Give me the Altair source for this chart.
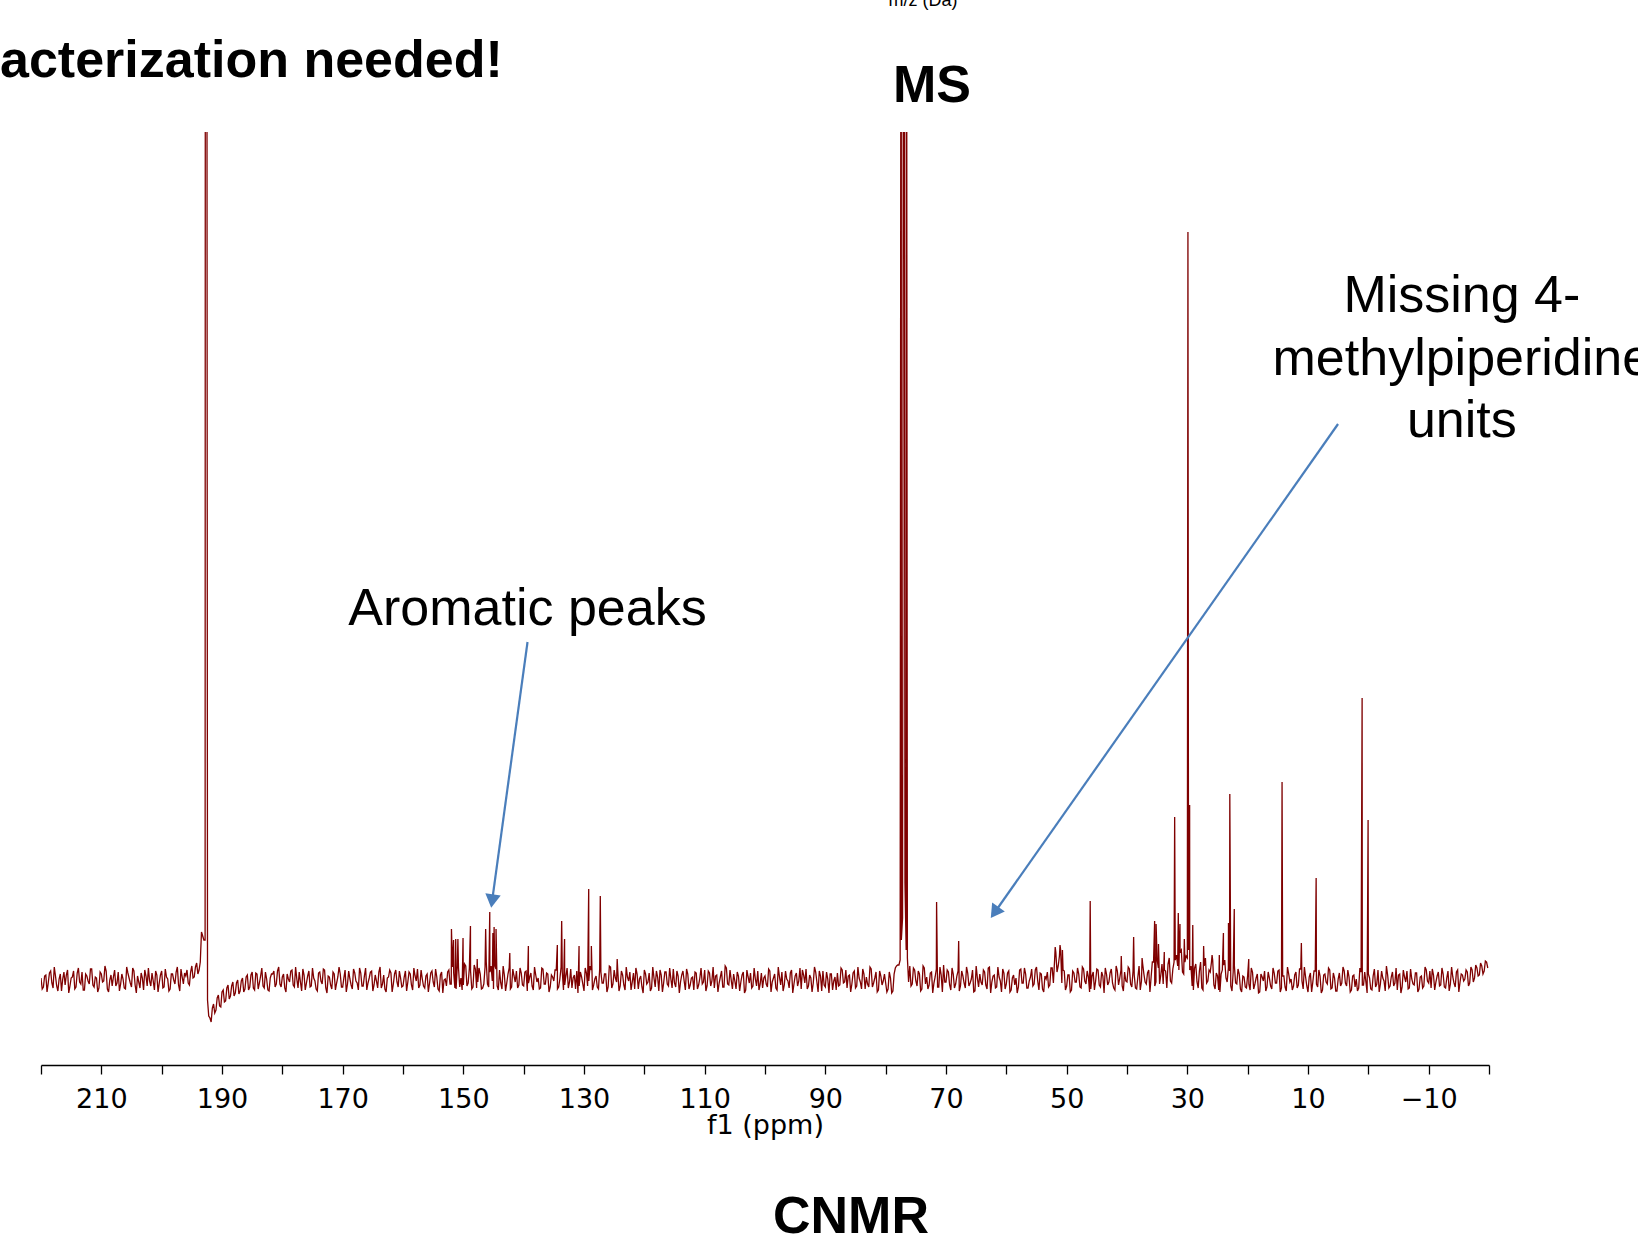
import altair as alt
import pandas as pd

# ---------------- data ----------------
PPM_START = 220.0
PPM_STEP = 0.2

# baseline / noise on the 0.4 ppm grid (220.0, 219.6, ...), 100 points per 40 ppm
noise_220_180 = [
    2, -7, 5, -3, 9, -8, 4, -11, 6, 1,
    -5, 10, -6, 3, -9, 7, -2, 8, -10, 4,
    -4, 11, -7, 2, -8, 6, -1, 9, -12, 5,
    3, -6, 8, -4, 1, -9, 7, -3, 12, -5,
    4, -8, 2, 10, -6, -1, 7, -10, 5, -3,
    9, -7, 3, -11, 6, 0, 8, -5, 11, -4,
    4, -3, 8, 2, 13, 6, 18, 44, 40, -20,
    -38, -28, -33, -18, -26, -12, -22, -8, -19, -6,
    -16, -3, -14, -1, -12, 3, -10, 5, -8, 7,
    -9, 4, -6, 8, -10, 2, 6, -7, 9, -4,
]
noise_180_140 = [
    3, -8, 6, -2, 10, -7, 1, 8, -11, 5,
    -3, 9, -6, 2, -9, 7, -1, 11, -8, 4,
    -5, 8, -10, 3, 6, -7, 10, -4, 1, -9,
    7, -3, 12, -6, 4, -10, 2, 9, -5, -1,
    8, -8, 5, -12, 3, 7, -4, 10, -7, 2,
    -6, 9, -2, 6, -10, 4, 11, -5, 1, -8,
    6, -3, 9, -7, 3, -11, 8, 0, -6, 10,
    -4, 7, -9, 12, 2, -5, 14, -3, 9, -7,
    11, -2, 6, -8, 13, -4, 8, -1, 15, -6,
    10, -9, 5, -3, 12, -7, 4, 9, -5, 7,
]
noise_140_100 = [
    -6, 9, -3, 7, -10, 5, 2, -8, 11, -4,
    6, -7, 3, 10, -9, 1, 8, -5, 12, -2,
    -8, 5, 9, -6, 3, -11, 7, -1, 10, -5,
    4, -9, 8, -3, 6, -7, 13, -4, 2, 9,
    -6, 5, -10, 3, 8, -2, -9, 6, 1, -7,
    10, -4, 7, -8, 2, 9, -11, 5, -3, 8,
    -6, 1, 11, -7, 4, -2, 9, -10, 6, -5,
    3, 8, -9, 2, -4, 10, -6, 7, -1, -8,
    5, -3, 9, -7, 12, -5, 0, 6, -9, 4,
    -2, 8, -10, 3, 7, -6, 1, 9, -4, -8,
]
noise_100_60 = [
    4, -7, 9, -2, 6, -10, 3, 8, -5, 1,
    -8, 10, -4, 7, -1, -9, 5, 11, -6, 2,
    -3, 8, -12, 4, 9, -7, 1, 6, -10, 3,
    7, -5, 10, -2, -8, 5, -4, 9, -6, 2,
    -9, 6, 3, -7, 11, -3, 8, -10, 4, -1,
    -3, -9, 2, -11, 12, 15, 20, 62, 97, 22,
    14, -4, 10, -6, 6, -9, 12, 3, -5, 8,
    -3, 11, -7, 5, 15, -2, 8, -10, 6, -4,
    9, -6, 4, -8, 7, -3, 10, -11, 2, 6,
    -5, 8, -9, 13, -2, 5, -7, 3, -12, 7,
]
noise_60_20 = [
    -4, 9, -10, 5, 2, -7, 11, -3, 6, -8,
    3, -6, 10, -1, 7, -9, 4, 8, -5, 12,
    20, 8, 24, -3, 9, -6, 5, -10, 7, -2,
    6, -8, 11, -4, 3, -9, 8, -1, 10, -7,
    4, 12, -5, 7, -3, -10, 9, 2, -6, 8,
    -2, 11, -7, 5, -9, 14, -1, 6, -4, 10,
    3, 18, -2, 12, 5, -4, 9, 16, -1, 11,
    20, 14, 28, 8, 18, 22, 10, -6, 12, -2,
    9, -8, 14, -3, 10, 18, -5, 7, -10, 6,
    15, 2, 12, -6, 8, -3, 11, -9, 4, -7,
]
noise_20_m20 = [
    5, -10, 8, -4, 6, -12, 3, 9, -7, 2,
    -9, 7, -3, 10, -8, 4, -11, 6, 1, -6,
    8, -5, 11, -9, 3, -12, 7, -2, 9, -7,
    4, -10, 6, -4, 10, -8, 2, -11, 7, -3,
    9, -6, 3, -10, 5, 1, -8, 8, -5, -2,
    6, -9, 4, -7, 10, -4, 2, -11, 5, -6,
    8, -3, -10, 6, -7, 3, 9, -8, 1, -5,
    7, -9, 4, -6, 10, -3, -8, 5, -2, 8,
    -5, 6, -8, 9, -4, 3, -7, 10, -2, 5,
    1, 8, -3, 10, 2, 12, 5, 14, 9, 18,
]

# baseline / noise at the in-between points (219.8, 219.4, ...)
mid_220_180 = [
    -9, 4, -12, 7, -3, 13, -6, 1, -11, 8,
    5, -13, 2, 9, -7, 12, -4, -10, 6, -1,
    11, -5, 3, -12, 8, -2, 14, -9, 0, -6,
    10, -3, -11, 6, -8, 13, 2, -7, 9, -13,
    -2, 7, -10, 4, 12, -6, -1, 9, -12, 5,
    -8, 11, 1, -9, 6, -4, 13, -11, 3, 7,
    10, -5, 14, 3, 17, 10, 48, 40, 1500, -36,
    -42, -24, -30, -15, -27, -10, -21, -5, -16, -2,
    -13, 0, -11, 2, -9, 5, -7, 8, -10, 6,
    -3, 12, -8, 1, -11, 6, 9, -4, 13, -7,
]
mid_180_140 = [
    6, -12, 1, 9, -5, 13, -8, -2, 11, -10,
    4, -7, 12, -1, -11, 8, -4, 10, -13, 3,
    -9, 6, -3, 13, -7, 2, -12, 9, -5, 11,
    -1, -10, 7, -6, 12, -3, 8, -11, 5, -8,
    13, -4, -9, 2, 10, -12, 6, -2, 9, -7,
    3, -11, 8, -5, 12, -1, -8, 10, -6, 4,
    -12, 7, -2, 11, -9, 5, -13, 1, 8, -4,
    13, -8, 14, -7, -10, 16, -6, 12, -9, 15,
    -8, 12, -9, -4, 18, -7, 14, -9, 11, -10,
    -3, 14, -11, 6, -9, 11, -2, -8, 12, -5,
]
mid_140_100 = [
    8, -11, 3, -6, 13, -2, -9, 12, -4, 7,
    -12, 5, -1, 10, -7, 13, -10, 4, -8, 11,
    2, -9, -13, 8, -4, 12, -6, 14, -10, 1,
    -7, 11, -3, 6, -12, 14, -8, 10, -2, -11,
    9, -5, 13, -1, -10, 7, 12, -9, 4, -13,
    6, -2, -11, 13, -7, 3, 10, -12, 8, -4,
    12, -8, -3, 9, -13, 5, -1, 11, -9, 2,
    -10, 7, -5, 12, -2, -11, 9, -6, 13, 4,
    -12, 3, -7, 14, -4, 10, -9, -1, 8, -11,
    5, -13, 10, -3, -8, 12, -6, -10, 7, 2,
]
mid_100_60 = [
    -4, 11, -12, 2, -8, 13, -5, -11, 9, -1,
    7, -13, 4, -6, 12, 10, -3, -9, 5, -12,
    13, -2, 9, -11, -5, 8, -13, 6, -1, -10,
    -6, 12, -3, 10, 4, -12, 7, -8, 13, -2,
    11, -9, -4, 13, -7, 2, -12, 9, -5, 6,
    -12, 8, -13, 6, 14, 15, 40, 1500, 30, -2,
    -6, 12, -1, 9, -11, 14, -4, -9, 7, -13,
    3, -7, 13, -12, -2, 10, -5, 12, -8, 4,
    -11, 9, -3, 13, -6, 1, -12, 14, -7, -2,
    10, -5, 12, -13, 4, -8, 13, -1, 11, -9,
]
mid_60_20 = [
    7, -12, 2, -5, -13, 10, -3, 12, -8, -1,
    11, -4, 13, -10, 6, -12, 1, -7, 12, -3,
    28, 14, 30, 10, -10, 5, -12, 9, -2, 12,
    -7, 13, -1, 9, -12, 4, -10, 11, -5, 8,
    -13, 6, -2, 11, -8, 14, -5, 10, -11, -1,
    13, -4, 9, -8, 3, -10, 16, -2, 7, -12,
    18, -6, 20, -4, 16, 10, -8, 22, -3, 18,
    25, 10, 30, 6, 24, 30, 14, -10, 16, -8,
    18, -10, 22, -1, 8, 20, -9, 4, -12, 10,
    20, -2, 9, -11, 14, -4, 6, -12, 3, -8,
]
mid_20_m20 = [
    -4, 12, -9, 2, -13, 6, -1, -11, 8, -6,
    12, -3, 9, -12, 4, -7, 13, -2, -10, 5,
    -8, 11, -1, 13, -6, 3, -12, 9, -4, 10,
    -13, 5, -2, 12, -9, 7, -11, 1, -6, 13,
    -3, 10, -12, 4, -7, -11, 12, -5, 8, -13,
    2, -10, 11, -4, -12, 9, -1, 14, -8, 3,
    -6, 12, 5, -13, 10, -2, -9, 11, -4, 7,
    -12, 3, -8, 13, -1, 9, 11, -10, 4, -6,
    12, -7, 2, -11, 13, -3, 8, -12, 6, -1,
    10, -6, 13, -2, 15, 4, 17, 6, 19, 12,
]

# sharp peaks (ppm, height above baseline)
peak_ppm = [
    192.75, 192.55,
    151.97, 151.62, 151.26, 150.9, 150.05, 148.82, 147.7, 146.3, 145.62,
    145.1, 144.9, 144.58, 142.3, 139.22, 134.42, 133.7, 133.22, 130.82,
    129.22, 128.78, 127.3, 124.5,
    77.42, 77.0, 76.58, 71.56, 67.9,
    51.9, 51.1, 50.7, 46.1, 40.95, 38.9, 37.5, 35.42, 35.18, 34.78, 33.82,
    32.1, 31.5, 31.22, 30.5, 29.9, 29.62, 29.1, 27.3, 25.9, 24.7, 24.02,
    23.18, 22.96, 22.22, 19.82, 14.3, 11.1, 8.65, 1.03, 0.04,
]
peak_height = [
    1500, 1500,
    51, 40, 41, 41, 42, 54, 21, 51, 68,
    47, 53, 51, 27, 34, 35, 59, 41, 34,
    91, 34, 84, 21,
    1500, 1500, 1500, 78, 39,
    33, 35, 30, 79, 24, 43, 22, 59, 56, 36, 28,
    163, 67, 56, 41, 748, 175, 55, 34, 25, 25, 47,
    57, 186, 71, 21, 198, 37, 102, 282, 160,
]

tick_values = list(range(-20, 221, 5))


# ---------------- build table ----------------
def interleave(a, b):
    out = []
    for p, q in zip(a, b):
        out += [p, q]
    return out


baseline = (interleave(noise_220_180, mid_220_180) + interleave(noise_180_140, mid_180_140)
            + interleave(noise_140_100, mid_140_100) + interleave(noise_100_60, mid_100_60)
            + interleave(noise_60_20, mid_60_20) + interleave(noise_20_m20, mid_20_m20))
grid_ppm = [round(PPM_START - PPM_STEP * i, 2) for i in range(len(baseline))]
rows = list(zip(grid_ppm, baseline)) + list(zip(peak_ppm, peak_height))
df = pd.DataFrame(rows, columns=["ppm", "intensity"])
df = df.sort_values("ppm", ascending=False, kind="mergesort").reset_index(drop=True)
df["order"] = range(len(df))

one = pd.DataFrame({"k": [0]})

W, H = 1448, 933
xscale = alt.Scale(domain=[-20, 220], reverse=True, nice=False, zero=False)
yscale = alt.Scale(domain=[-85, 848], nice=False, zero=False)

x_axis = alt.Axis(
    values=tick_values,
    title="f1 (ppm)",
    grid=False,
    domainColor="black",
    domainWidth=1.5,
    tickColor="black",
    tickWidth=1.3,
    tickSize={"condition": {"test": "datum.value % 10 === 0", "value": 9}, "value": 5},
    labelExpr="(datum.value - 10) % 20 === 0 ? datum.label : ''",
    labelFont="DejaVu Sans",
    labelFontSize=27,
    labelColor="black",
    labelPadding=12,
    labelOverlap=False,
    labelFlush=False,
    titleFont="DejaVu Sans",
    titleFontSize=27,
    titleFontWeight="normal",
    titleColor="black",
    titlePadding=0,
)

spectrum = alt.Chart(df).mark_line(color="#7f0000", strokeWidth=1.3, clip=True).encode(
    x=alt.X("ppm:Q", scale=xscale, axis=x_axis),
    y=alt.Y("intensity:Q", scale=yscale, axis=None),
    order="order:Q",
)

ARROW = "#4a7ebb"

arrow1 = alt.Chart(one).mark_rule(color=ARROW, strokeWidth=2.2).encode(
    x=alt.datum(139.36), y=alt.datum(338), x2=alt.datum(145.23), y2=alt.datum(79))
head1 = alt.Chart(one).mark_point(shape="triangle-down", filled=True, size=240, angle=7.8,
                                  color=ARROW, opacity=1).encode(
    x=alt.datum(145.23), y=alt.datum(79))
arrow2 = alt.Chart(one).mark_rule(color=ARROW, strokeWidth=2.2).encode(
    x=alt.datum(5.02), y=alt.datum(556), x2=alt.datum(61.94), y2=alt.datum(67.5))
head2 = alt.Chart(one).mark_point(shape="triangle-down", filled=True, size=240, angle=35.1,
                                  color=ARROW, opacity=1).encode(
    x=alt.datum(61.94), y=alt.datum(67.5))

aromatic = alt.Chart(one).mark_text(
    text="Aromatic peaks", font="Liberation Sans", fontSize=52, align="center",
    baseline="alphabetic", color="black").encode(x=alt.datum(139.36), y=alt.datum(355))

missing = alt.Chart(one).mark_text(
    text=["Missing 4-", "methylpiperidine", "units"], font="Liberation Sans",
    fontSize=52, align="center", baseline="alphabetic", lineHeight=62.5,
    color="black").encode(x=alt.datum(-15.5), y=alt.datum(668))

# texts outside the plot area (pixel positions relative to the plot origin)
heading = alt.Chart(one).mark_text(
    text="acterization needed!", font="Liberation Sans", fontSize=52, fontWeight="bold",
    align="left", baseline="alphabetic", color="black").encode(
    x=alt.value(-41), y=alt.value(-55))
ms = alt.Chart(one).mark_text(
    text="MS", font="Liberation Sans", fontSize=52, fontWeight="bold",
    align="center", baseline="alphabetic", color="black").encode(
    x=alt.value(891), y=alt.value(-30))
mz = alt.Chart(one).mark_text(
    text="m/z (Da)", font="Liberation Sans", fontSize=18,
    align="center", baseline="alphabetic", color="black").encode(
    x=alt.value(882), y=alt.value(-126))
cnmr = alt.Chart(one).mark_text(
    text="CNMR", font="Liberation Sans", fontSize=52, fontWeight="bold",
    align="center", baseline="alphabetic", color="black").encode(
    x=alt.value(810), y=alt.value(1101))

chart = alt.layer(
    spectrum, arrow1, arrow2, head1, head2, aromatic, missing, heading, ms, mz, cnmr
).properties(
    width=W, height=H,
    autosize=alt.AutoSizeParams(type="none"),
    padding={"left": 41, "top": 132, "right": 149, "bottom": 176},
).configure_view(stroke=None)

chart.save("out.html", embed_options={"renderer": "svg", "actions": False})
